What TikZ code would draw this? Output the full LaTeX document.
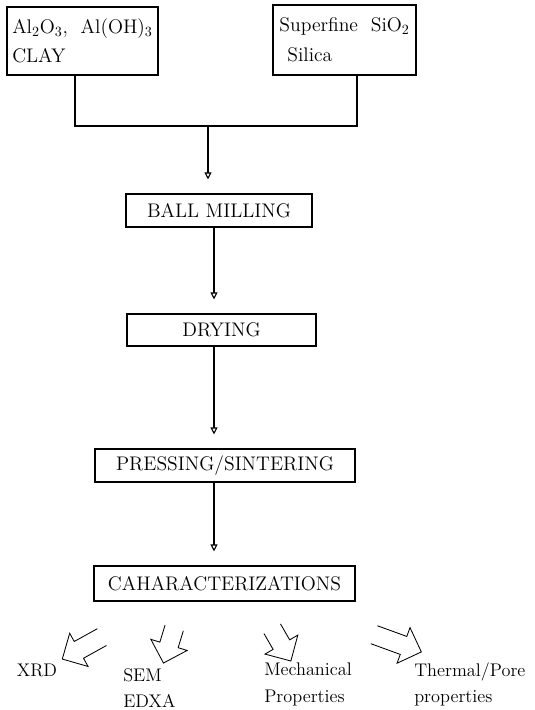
\documentclass[tikz,border=0pt]{standalone}
\usepackage{amsmath}
\usetikzlibrary{arrows.meta, positioning, shapes.arrows}

\begin{document}
\begin{tikzpicture}[
    box/.style={draw, line width=0.8pt, font=\fontsize{14}{17}\selectfont},
    flow/.style={-{Triangle[open, length=5pt, width=5pt]}, line width=0.8pt, shorten >=0.35cm},
    blockarrow/.style={single arrow, single arrow head extend=0.225cm,
      minimum width=0.9cm, minimum height=#1, inner xsep=0pt, inner ysep=0.225cm},
    lbl/.style={font=\fontsize{13}{19}\selectfont, align=left, inner sep=0pt}
  ]
    \useasboundingbox (0,0) rectangle (13.35,-17.75);
    % raw materials
    \node[box, minimum width=3.775cm, minimum height=1.7cm, align=left,
      font=\fontsize{14}{21}\selectfont] (oxides) at (2.0625,-1.025) {Al$_2$O$_3$,\ \ Al(OH)$_3$\\CLAY};
    \node[box, minimum width=3.575cm, minimum height=1.75cm, align=left,
      font=\fontsize{14}{21}\selectfont] (silica) at (8.6125,-1.0) {Superfine\ \ SiO$_2$\\\hspace{0.2cm}Silica};
    % process steps
    \node[box, minimum width=4.65cm, minimum height=0.825cm] (mill) at (5.475,-5.2625) {BALL MILLING};
    \node[box, minimum width=4.725cm, minimum height=0.8cm] (dry) at (5.5375,-8.25) {DRYING};
    \node[box, minimum width=6.5cm, minimum height=0.825cm] (press) at (5.625,-11.6375) {PRESSING/SINTERING};
    \node[box, minimum width=6.525cm, minimum height=0.875cm] (charact) at (5.6125,-14.5875) {CAHARACTERIZATIONS};
    % mixing lines
    \coordinate (jl) at (1.875,-3.15);
    \coordinate (jr) at (8.925,-3.15);
    \coordinate (jm) at (5.2,-3.15);
    \coordinate (axis) at (5.35,0);
    \draw[line width=0.8pt] (oxides.south -| jl) -- (jl) -- (jr) -- (silica.south -| jr);
    \draw[flow] (jm) -- (jm |- mill.north);
    \foreach \a/\b in {mill/dry, dry/press, press/charact} {
      \draw[flow] (\a.south -| axis) -- (\b.north -| axis);
    }
    % analyses (open-tailed block arrows)
    \foreach \n/\x/\y/\ang/\len in {toxrd/2.155/-16.145/209/1.115cm, tosem/4.255/-16.025/253/0.9cm,
        tomech/6.98/-16.02/300/0.915cm, tothermal/9.8325/-16.0425/340/1.24cm} {
      \node[blockarrow=\len, rotate=\ang] (\n) at (\x,\y) {};
      \draw[line width=0.6pt, line join=miter] (\n.after tail) -- (\n.before head) -- (\n.before tip) -- (\n.tip)
        -- (\n.after tip) -- (\n.after head) -- (\n.before tail);
    }
    \node[lbl] (xrd) at (0.925,-16.75) {XRD};
    \node[lbl, anchor=west] (sem) at (3.075,-17.2) {SEM\\EDXA};
    \node[lbl, anchor=west] (mech) at (6.6,-17.1125) {Mechanical\\Properties};
    \node[lbl, anchor=west] (thermal) at (10.35,-17.1125) {Thermal/Pore\\properties};
  \end{tikzpicture}
\end{document}
